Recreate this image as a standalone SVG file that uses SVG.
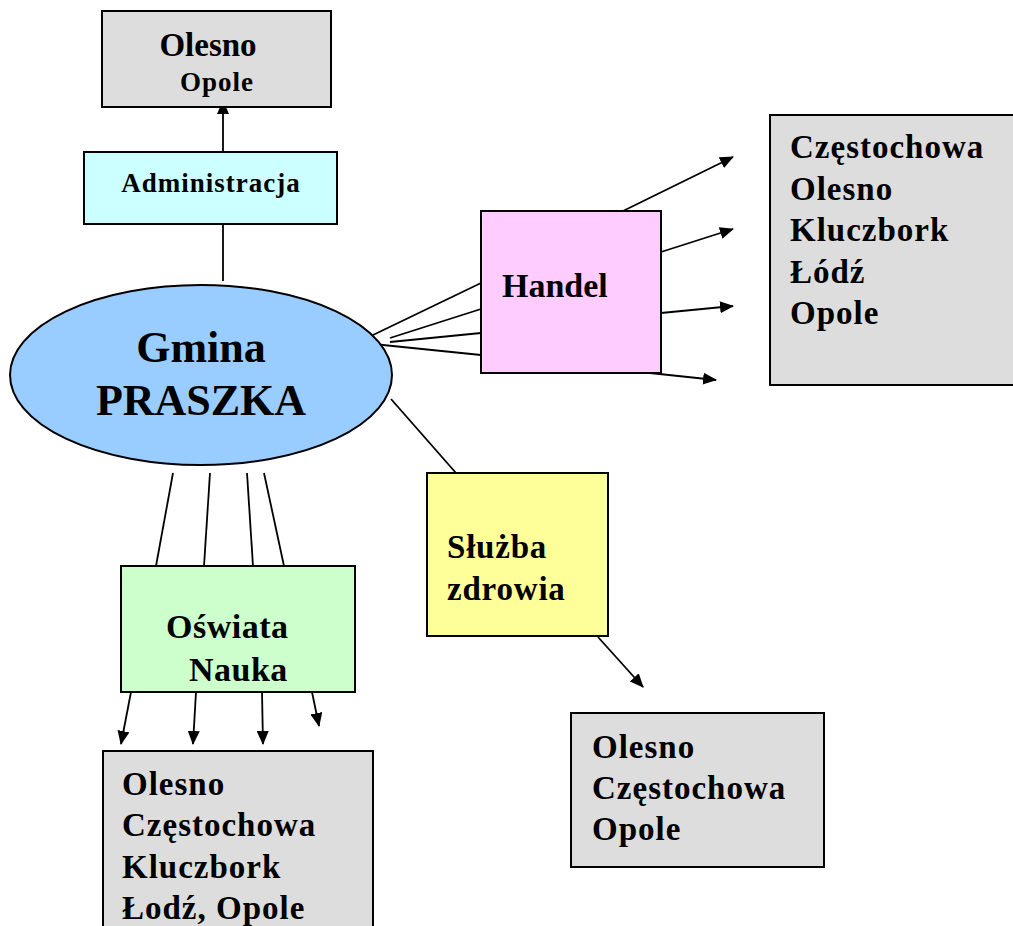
<svg xmlns="http://www.w3.org/2000/svg" width="1013" height="926" viewBox="0 0 1013 926">
<defs>
<style>
.box{stroke:#000;stroke-width:2}
.t{font-family:"Liberation Serif","Times New Roman",serif;font-weight:bold;fill:#000}
.ln{stroke:#000;stroke-width:1.8;fill:none}
.gray{fill:#dddddd}
</style>
<marker id="ah" markerWidth="14" markerHeight="12" refX="13" refY="6" orient="auto" markerUnits="userSpaceOnUse">
<path d="M0,0 L14,6 L0,12 Z" fill="#000"/>
</marker>
</defs>
<rect width="1013" height="926" fill="#fff"/>

<g id="connectors">
<line class="ln" x1="223" y1="152" x2="223" y2="101" marker-end="url(#ah)"/>
<line class="ln" x1="223" y1="224" x2="223" y2="281"/>
<line class="ln" x1="373" y1="335" x2="481" y2="283"/>
<line class="ln" x1="390" y1="338" x2="481" y2="309"/>
<line class="ln" x1="390" y1="342" x2="481" y2="333"/>
<line class="ln" x1="373" y1="344" x2="481" y2="355"/>
<line class="ln" x1="623" y1="211" x2="733" y2="157" marker-end="url(#ah)"/>
<line class="ln" x1="661" y1="252" x2="733" y2="229" marker-end="url(#ah)"/>
<line class="ln" x1="661" y1="313" x2="733" y2="306" marker-end="url(#ah)"/>
<line class="ln" x1="650" y1="373" x2="716" y2="380" marker-end="url(#ah)"/>
<line class="ln" x1="391" y1="399" x2="456" y2="473"/>
<line class="ln" x1="598" y1="637" x2="643" y2="687" marker-end="url(#ah)"/>
<line class="ln" x1="173" y1="473" x2="156" y2="566"/>
<line class="ln" x1="210" y1="473" x2="204" y2="566"/>
<line class="ln" x1="247" y1="473" x2="253" y2="566"/>
<line class="ln" x1="264" y1="473" x2="284" y2="566"/>
<line class="ln" x1="131" y1="692" x2="121" y2="744" marker-end="url(#ah)"/>
<line class="ln" x1="196" y1="692" x2="193" y2="744" marker-end="url(#ah)"/>
<line class="ln" x1="262" y1="692" x2="263" y2="744" marker-end="url(#ah)"/>
<line class="ln" x1="312" y1="692" x2="319" y2="726" marker-end="url(#ah)"/>
</g>

<g id="node-top">
<rect class="box gray" x="102" y="11" width="229" height="96"/>
<text class="t" x="208" y="56" font-size="33" text-anchor="middle">Olesno</text>
<text class="t" x="217" y="91" font-size="27" letter-spacing="1" text-anchor="middle">Opole</text>
</g>

<g id="node-administracja">
<rect class="box" x="84" y="152" width="253" height="72" fill="#ccffff"/>
<text class="t" x="211" y="192" font-size="27" letter-spacing="1" text-anchor="middle">Administracja</text>
</g>

<g id="node-gmina">
<ellipse class="box" cx="201" cy="375" rx="191" ry="90" fill="#99ccff"/>
<text class="t" x="201" y="362" font-size="44" text-anchor="middle">Gmina</text>
<text class="t" x="201" y="415" font-size="44" text-anchor="middle">PRASZKA</text>
</g>

<g id="node-handel">
<rect class="box" x="481" y="211" width="180" height="162" fill="#ffccff"/>
<text class="t" x="502" y="297" font-size="34">Handel</text>
</g>

<g id="node-handel-cities">
<rect class="box gray" x="770" y="115" width="260" height="270"/>
<text class="t" x="790" y="158" font-size="33" letter-spacing="1">Częstochowa</text>
<text class="t" x="790" y="199.5" font-size="33" letter-spacing="1">Olesno</text>
<text class="t" x="790" y="241" font-size="33" letter-spacing="1">Kluczbork</text>
<text class="t" x="790" y="282.5" font-size="33" letter-spacing="1">Łódź</text>
<text class="t" x="790" y="324" font-size="33" letter-spacing="1">Opole</text>
</g>

<g id="node-sluzba">
<rect class="box" x="427" y="473" width="181" height="163" fill="#ffff99"/>
<text class="t" x="447" y="558" font-size="33" letter-spacing="0.8">Służba</text>
<text class="t" x="447" y="600" font-size="33" letter-spacing="0.8">zdrowia</text>
</g>

<g id="node-sluzba-cities">
<rect class="box gray" x="571" y="713" width="253" height="154"/>
<text class="t" x="592" y="758" font-size="33" letter-spacing="1">Olesno</text>
<text class="t" x="592" y="799" font-size="33" letter-spacing="1">Częstochowa</text>
<text class="t" x="592" y="840" font-size="33" letter-spacing="1">Opole</text>
</g>

<g id="node-oswiata">
<rect class="box" x="121" y="566" width="234" height="126" fill="#ccffcc"/>
<text class="t" x="166" y="638" font-size="34" letter-spacing="0.5">Oświata</text>
<text class="t" x="189" y="681" font-size="34" letter-spacing="0.5">Nauka</text>
</g>

<g id="node-oswiata-cities">
<rect class="box gray" x="103" y="751" width="270" height="200"/>
<text class="t" x="122" y="795" font-size="33" letter-spacing="1">Olesno</text>
<text class="t" x="122" y="836" font-size="33" letter-spacing="1">Częstochowa</text>
<text class="t" x="122" y="878" font-size="33" letter-spacing="1">Kluczbork</text>
<text class="t" x="122" y="919" font-size="33" letter-spacing="1">Łodź, Opole</text>
</g>
</svg>
